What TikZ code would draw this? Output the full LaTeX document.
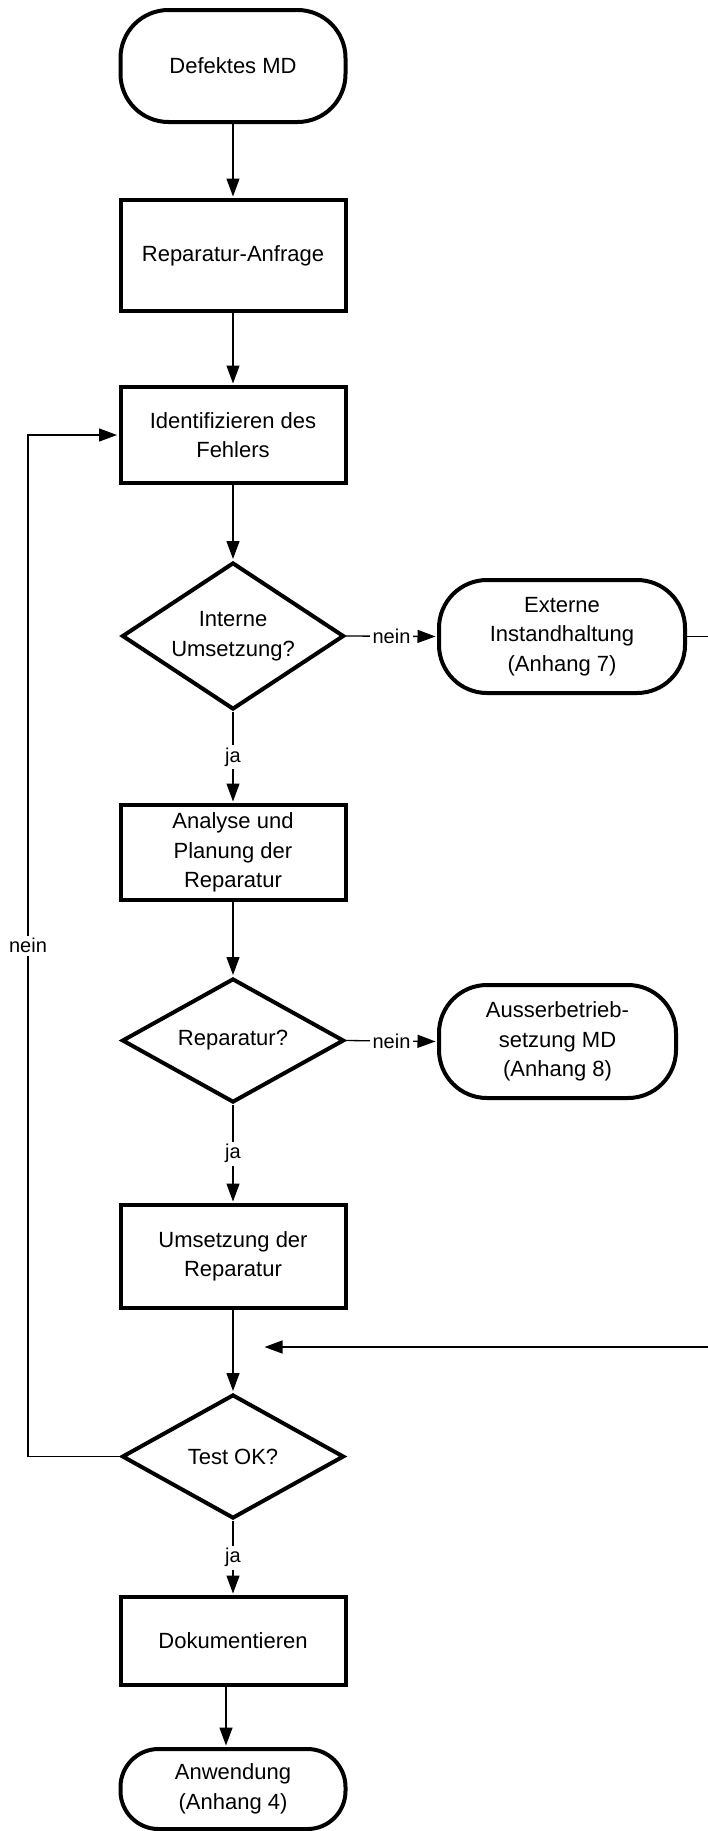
\documentclass[tikz,border=0pt]{standalone}
\usepackage{fontspec}
\setmainfont{Liberation Sans}
\usetikzlibrary{shapes.geometric,arrows.meta}

\begin{document}
\begin{tikzpicture}[x=1pt,y=-1pt,
  txt/.style={font=\fontsize{22}{29.5}\selectfont,align=center,inner sep=0pt},
  box/.style={txt,draw,line width=4pt,rectangle,minimum width=225pt},
  term/.style={txt,draw,line width=4pt,rectangle,rounded corners=48pt,minimum width=225pt},
  dec/.style={txt,draw,line width=4pt,diamond,shape aspect=2,minimum width=222pt},
  link/.style={line width=1.3pt},
  arrow/.style={link,-{Triangle[length=18pt,width=13pt]},shorten >=1.5pt},
  lbl/.style={fill=white,inner sep=2.5pt,font=\fontsize{20}{23}\selectfont}]

\useasboundingbox (0,0) rectangle (708,1831);
\fill[white] (0,0) rectangle (708,1831);

% main column
\node[term,minimum height=112pt] (start) at (233,66) {Defektes MD};
\node[box,minimum height=111pt] (req) at (233,255.5) {Reparatur-Anfrage};
\node[box,minimum height=96pt] (ident) at (233,435) {Identifizieren des\\Fehlers};
\node[dec,minimum height=147pt] (d1) at (233,636) {Interne\\Umsetzung?};
\node[box,minimum height=95pt] (plan) at (233,852.5) {Analyse und\\Planung der\\Reparatur};
\node[dec,minimum height=124pt] (d2) at (233,1040.5) {Reparatur?};
\node[box,minimum height=103pt] (exec) at (233,1256.5) {Umsetzung der\\Reparatur};
\node[dec,minimum height=124pt] (d3) at (233,1456.5) {Test OK?};
\node[box,minimum height=88pt] (doc) at (233,1641) {Dokumentieren};
\node[term,rounded corners=38pt,minimum height=80pt] (use) at (233,1789) {Anwendung\\(Anhang 4)};

% side terminals
\node[term,minimum width=246pt,minimum height=113pt] (ext) at (562,636.5) {Externe\\Instandhaltung\\(Anhang 7)};
\node[term,minimum width=237pt,minimum height=113pt] (out) at (557.5,1041.5) {Ausserbetrieb-\\setzung MD\\(Anhang 8)};

% helper coordinates
\coordinate (leftRail) at (28,0);
\coordinate (rightEdge) at (708,0);
\coordinate (retIn) at (708,1347);
\coordinate (retTip) at (263,1347);

% flow
\draw[arrow] (start) -- (req);
\draw[arrow] (req) -- (ident);
\draw[arrow] (ident) -- (d1);
\draw[arrow] (d1.south) -- node[lbl]{ja} (plan.north);
\draw[arrow] (d1.east) -- node[lbl]{nein} (ext.west);
\draw[link] (ext.east) -- (ext.east -| rightEdge);
\draw[arrow] (plan) -- (d2);
\draw[arrow] (d2.south) -- node[lbl]{ja} (exec.north);
\draw[arrow] (d2.east) -- node[lbl]{nein} (out.west);
\draw[arrow] (exec) -- (d3);
\draw[arrow] (retIn) -- (retTip);
\draw[arrow] (d3.south) -- node[lbl]{ja} (doc.north);
\draw[arrow] ([xshift=-7pt]doc.south) -- ([xshift=-7pt]use.north);
\draw[arrow] (d3.west) -- (d3.west -| leftRail) -- node[lbl]{nein} (ident.west -| leftRail) -- (ident.west);
\end{tikzpicture}
\end{document}
